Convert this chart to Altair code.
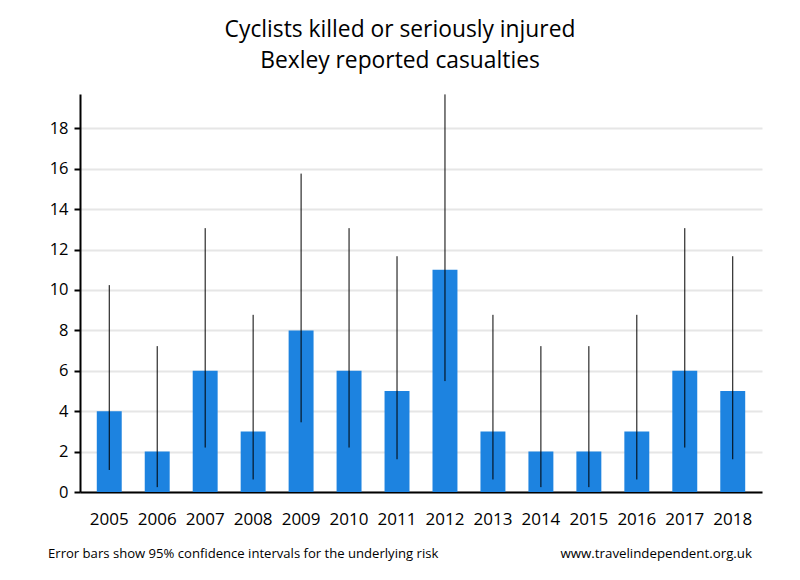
import altair as alt
import pandas as pd

years = ["2005", "2006", "2007", "2008", "2009", "2010", "2011",
         "2012", "2013", "2014", "2015", "2016", "2017", "2018"]
casualties = [4, 2, 6, 3, 8, 6, 5, 11, 3, 2, 2, 3, 6, 5]
ci_low = [1.09, 0.24, 2.20, 0.62, 3.45, 2.20, 1.62, 5.49, 0.62, 0.24, 0.24, 0.62, 2.20, 1.62]
ci_high = [10.24, 7.22, 13.06, 8.77, 15.76, 13.06, 11.67, 19.68, 8.77, 7.22, 7.22, 8.77, 13.06, 11.67]

title_lines = ["Cyclists killed or seriously injured", "Bexley reported casualties"]
footer_left = "Error bars show 95% confidence intervals for the underlying risk"
footer_right = "www.travelindependent.org.uk"

FONT = "Open Sans"

df = pd.DataFrame({"year": years, "value": casualties, "lo": ci_low, "hi": ci_high})

x = alt.X("year:N", sort=years,
          scale=alt.Scale(paddingInner=0.48, paddingOuter=0.35),
          axis=alt.Axis(title=None, labelAngle=0, ticks=False, domainColor="black",
                        domainWidth=2, labelFontSize=17, labelPadding=19,
                        labelColor="black", labelFont=FONT))
y_scale = alt.Scale(domain=[0, 19.7], nice=False)

bars = alt.Chart(df).mark_bar(color="#1d83e0").encode(
    x=x,
    y=alt.Y("value:Q", scale=y_scale,
            axis=alt.Axis(title=None, values=list(range(0, 20, 2)), grid=True,
                          gridColor="#e6e6e6", gridWidth=2, domainColor="black",
                          domainWidth=2, tickColor="black", tickWidth=2, tickSize=6,
                          labelFontSize=16.5, labelPadding=6, labelColor="black",
                          labelFont=FONT)),
)

errs = alt.Chart(df).mark_rule(color="black", strokeWidth=1).encode(
    x=alt.X("year:N", sort=years),
    y=alt.Y("lo:Q", scale=y_scale),
    y2="hi:Q",
)

def text_layer(txt, xv, yv, size, align):
    return alt.Chart(pd.DataFrame({"t": [txt]})).mark_text(
        font=FONT, fontSize=size, align=align, baseline="middle", color="black"
    ).encode(x=alt.value(xv), y=alt.value(yv), text="t:N")

t1 = text_layer(title_lines[0], 320, -64, 22.8, "center")
t2 = text_layer(title_lines[1], 320, -33, 22.8, "center")
f1 = text_layer(footer_left, -32, 460, 13.1, "left")
f2 = text_layer(footer_right, 672, 460, 13.3, "right")

chart = alt.layer(bars, errs, t1, t2, f1, f2).properties(
    width=682, height=398,
    background="white",
    autosize=alt.AutoSizeParams(type="none"),
    padding={"left": 72, "top": 86, "right": 30, "bottom": 70},
).configure_view(stroke=None, strokeWidth=0)

chart.save("out.html", embed_options={"renderer": "svg", "actions": False})
